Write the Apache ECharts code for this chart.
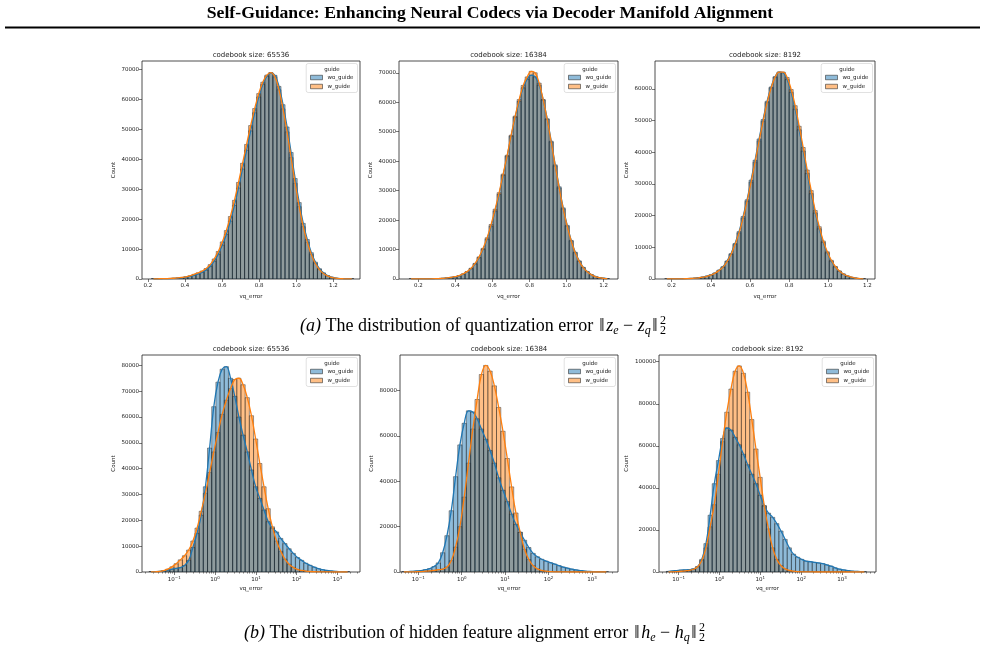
<!DOCTYPE html>
<html>
<head>
<meta charset="utf-8">
<script src="https://cdn.jsdelivr.net/npm/echarts@6.0.0/dist/echarts.min.js"></script>
<style>
  html, body { margin: 0; padding: 0; background: #fff; }
  #main { width: 985px; height: 658px; }
</style>
</head>
<body>
<div id="main"></div>
<script>
var pageTitle = "Self-Guidance: Enhancing Neural Codecs via Decoder Manifold Alignment";
var panelTitles = ["codebook size: 65536", "codebook size: 16384", "codebook size: 8192",
                   "codebook size: 65536", "codebook size: 16384", "codebook size: 8192"];
var hueNames = ["wo_guide", "w_guide"];
var linTicks = [0.2, 0.4, 0.6, 0.8, 1.0, 1.2];
var logTicks = [-1, 0, 1, 2, 3];
var countTicks1 = [0, 10000, 20000, 30000, 40000, 50000, 60000, 70000];
var countTicks3 = [0, 10000, 20000, 30000, 40000, 50000, 60000];
var countTicks4 = [0, 10000, 20000, 30000, 40000, 50000, 60000, 70000, 80000];
var countTicks5 = [0, 20000, 40000, 60000, 80000];
var countTicks6 = [0, 20000, 40000, 60000, 80000, 100000];

// (a) quantization error, bins on vq_error
var p1Bins = [0.22, 0.0218];
var p1Wo = [50, 60, 80, 110, 150, 210, 300, 430, 620, 900, 1250, 1700, 2200, 3000, 4200, 5950, 8300, 11350, 14900, 19400,
  24600, 30450, 36800, 43050, 49550, 55600, 60900, 65050, 67750, 68950, 68100, 64400, 58300, 50850, 42300, 33600, 25550, 18600, 13200, 8800,
  5650, 3450, 2060, 1150, 620, 300, 150, 80, 40, 20];
var p1W = [60, 70, 95, 130, 180, 250, 360, 520, 740, 1080, 1550, 2050, 2650, 3500, 4800, 6700, 9200, 12400, 16200, 20900,
  26300, 32300, 38700, 45000, 51300, 57000, 62000, 65800, 68200, 69000, 67600, 63300, 56900, 49200, 40600, 32000, 24200, 17500, 12300, 8200,
  5200, 3150, 1850, 1020, 540, 260, 130, 70, 35, 15];
var p2Bins = [0.15, 0.0216];
var p2Wo = [20, 25, 30, 40, 45, 60, 100, 150, 230, 350, 520, 760, 1100, 1650, 2400, 3500, 5130, 7230, 10070, 13530,
  17950, 23100, 28760, 35200, 41700, 48500, 54950, 60350, 64900, 67800, 69200, 68630, 65800, 60800, 54400, 46800, 38750, 31300, 24150, 18200,
  13100, 9100, 6150, 3960, 2530, 1520, 870, 480, 250, 120];
var p2W = [20, 25, 30, 40, 50, 65, 105, 160, 240, 360, 540, 790, 1150, 1720, 2500, 3650, 5300, 7500, 10400, 14000,
  18500, 23700, 29300, 35600, 42000, 48800, 55300, 60900, 65700, 68600, 70500, 70000, 66500, 60900, 54200, 46500, 38400, 30900, 23800, 17900,
  12900, 8900, 6000, 3850, 2450, 1470, 840, 460, 240, 110];
var p3Bins = [0.165, 0.0205];
var p3Wo = [20, 25, 35, 50, 70, 110, 170, 260, 400, 600, 900, 1300, 1900, 2800, 3870, 5700, 8000, 11200, 14950, 19700,
  25000, 31200, 37500, 44200, 50300, 56100, 60600, 63850, 65300, 65100, 62950, 58900, 53650, 47100, 40400, 33350, 26950, 20850, 15860, 11540,
  8270, 5650, 3820, 2460, 1560, 940, 550, 300, 150, 70];
var p3W = [20, 25, 35, 50, 70, 105, 160, 250, 380, 570, 860, 1250, 1820, 2700, 3750, 5500, 7750, 10900, 14550, 19200,
  24500, 30600, 36900, 43600, 49800, 55700, 60300, 63700, 65300, 65300, 63600, 59800, 54700, 48200, 41500, 34400, 27900, 21600, 16500, 12000,
  8600, 5900, 3950, 2550, 1600, 960, 560, 300, 150, 70];

// (b) hidden feature alignment error, bins on log10(vq_error)
var p4Bins = [-1.62, 0.1025];
var p4Wo = [50, 100, 200, 400, 700, 1100, 1400, 1700, 2500, 4500, 9500, 15000, 22000, 33000, 48000, 64000, 73500, 78500, 79500, 75000,
  68000, 60000, 53000, 46500, 39500, 33000, 28500, 24000, 19500, 17000, 15500, 13000, 11000, 9000, 7200, 5600, 4500, 3400, 2600, 1900,
  1300, 900, 600, 400, 250, 150, 80, 40];
var p4W = [30, 80, 200, 500, 1100, 2000, 3200, 4700, 6300, 8500, 12000, 17000, 23500, 30500, 38500, 46500, 54000, 61000, 66500, 71000,
  74500, 75000, 72500, 67500, 60500, 51500, 42000, 33000, 24500, 17500, 12000, 8000, 5000, 3000, 1800, 1000, 600, 350, 200, 100,
  60, 40, 20, 10, 5, 0, 0, 0];
var p5Bins = [-1.38, 0.0992];
var p5Wo = [100, 200, 300, 450, 650, 1000, 1500, 2400, 4000, 8500, 16000, 27000, 42000, 56000, 65500, 71000, 70500, 67500, 63000, 58500,
  53500, 48000, 41500, 36000, 31000, 25500, 21000, 17500, 14000, 10800, 8200, 6700, 5600, 4800, 4100, 3500, 2800, 2200, 1700, 1250,
  900, 650, 400, 250, 150, 80, 40, 20];
var p5W = [10, 30, 60, 120, 200, 350, 500, 700, 1000, 1300, 2200, 5000, 11000, 20000, 33000, 48000, 63000, 76000, 87000, 91000,
  88500, 82000, 72500, 62000, 50000, 37500, 26000, 17500, 10000, 5500, 2800, 1400, 700, 350, 180, 90, 50, 25, 12, 6,
  3, 0, 0, 0, 0, 0, 0, 0];
var p6Bins = [-1.3, 0.102];
var p6Wo = [300, 500, 700, 900, 1000, 1100, 1500, 2500, 6000, 13500, 27000, 42000, 53000, 63500, 68500, 67500, 64000, 60500, 56000, 51000,
  46500, 42000, 36500, 31500, 28000, 26000, 23000, 19500, 15500, 11500, 8500, 7000, 6000, 5200, 4900, 4600, 4300, 4000, 3400, 2800,
  2000, 1400, 1000, 700, 450, 300, 180, 80];
var p6W = [50, 100, 200, 350, 550, 800, 1300, 2500, 5500, 11500, 21500, 32000, 46500, 62000, 76000, 87000, 95500, 98000, 94500, 85500,
  72500, 58500, 45000, 31500, 20500, 11500, 6000, 3000, 1500, 750, 380, 190, 90, 45, 20, 10, 5, 0,
  0, 0, 0, 0, 0, 0, 0, 0, 0, 0];

var panels = [
  { bins: p1Bins, wo: p1Wo, w: p1W, log: false, xMin: 0.169, xMax: 1.343, yMax: 72900, yTicks: countTicks1 },
  { bins: p2Bins, wo: p2Wo, w: p2W, log: false, xMin: 0.096, xMax: 1.277, yMax: 74000, yTicks: countTicks1 },
  { bins: p3Bins, wo: p3Wo, w: p3W, log: false, xMin: 0.115, xMax: 1.239, yMax: 68800, yTicks: countTicks3 },
  { bins: p4Bins, wo: p4Wo, w: p4W, log: true, xMin: -1.79, xMax: 3.55, yMax: 84000, yTicks: countTicks4 },
  { bins: p5Bins, wo: p5Wo, w: p5W, log: true, xMin: -1.42, xMax: 3.6, yMax: 95600, yTicks: countTicks5 },
  { bins: p6Bins, wo: p6Wo, w: p6W, log: true, xMin: -1.48, xMax: 3.83, yMax: 103200, yTicks: countTicks6 }
];

var boxes = [
  { l: 142, t: 61, r: 360, b: 279 },
  { l: 399, t: 61, r: 618, b: 279 },
  { l: 655, t: 61, r: 875, b: 279 },
  { l: 142, t: 355, r: 360, b: 572 },
  { l: 400, t: 355, r: 618, b: 572 },
  { l: 659, t: 355, r: 876, b: 572 }
];

var FONT = "DejaVu Sans";
var SERIF = "Liberation Serif";
var blueFill = "rgba(31,119,180,0.5)";
var orangeFill = "rgba(255,127,14,0.5)";
var blueLine = "#1f77b4";
var orangeLine = "#ff7f0e";

function minorLog(lo, hi) {
  var out = [];
  for (var n = -3; n <= 4; n++) {
    for (var k = 2; k <= 9; k++) {
      var v = n + Math.log10(k);
      if (v > lo && v < hi) out.push(v);
    }
  }
  return out;
}

function histSeries(name, counts, bins, fill, z) {
  return {
    type: "custom",
    name: name,
    z: z,
    clip: true,
    silent: true,
    data: counts.map(function (c, i) {
      return [bins[0] + i * bins[1], bins[0] + (i + 1) * bins[1], c];
    }),
    encode: { x: [0, 1], y: 2 },
    renderItem: function (params, api) {
      var a = api.coord([api.value(0), 0]);
      var b = api.coord([api.value(1), api.value(2)]);
      return {
        type: "rect",
        shape: { x: a[0], y: b[1], width: b[0] - a[0], height: a[1] - b[1] },
        style: { fill: fill, stroke: "rgba(30,30,30,0.8)", lineWidth: 0.55 }
      };
    }
  };
}

function kdeSeries(name, counts, bins, color) {
  return {
    type: "line",
    name: name,
    z: 6,
    silent: true,
    smooth: 0.4,
    showSymbol: false,
    clip: true,
    lineStyle: { color: color, width: 1.3 },
    data: counts.map(function (c, i) {
      return [bins[0] + (i + 0.5) * bins[1], c];
    })
  };
}

var grids = [], xAxes = [], yAxes = [], series = [], legends = [], graphics = [];

panels.forEach(function (p, k) {
  var bx = boxes[k];
  grids.push({
    left: bx.l, top: bx.t, width: bx.r - bx.l, height: bx.b - bx.t,
    show: true, borderColor: "#222", borderWidth: 0.8, backgroundColor: "#fff"
  });
  var labelRich = {
    b: { fontSize: 5.5, fontFamily: FONT, color: "#222", lineHeight: 9 },
    s: { fontSize: 4, fontFamily: FONT, color: "#222", lineHeight: 5, verticalAlign: "top" }
  };
  var mainX = xAxes.length;
  xAxes.push({
    type: "value", gridIndex: k, min: p.xMin, max: p.xMax, position: "bottom",
    axisLine: { show: false, onZero: false },
    splitLine: { show: false },
    axisTick: { show: true, customValues: p.log ? logTicks : linTicks, length: 3, lineStyle: { color: "#222", width: 0.6 } },
    axisLabel: {
      show: true, customValues: p.log ? logTicks : linTicks, margin: 3.5,
      fontSize: 5.5, fontFamily: FONT, color: "#222",
      formatter: p.log ? function (v) {
        return "{b|10}{s|" + (v < 0 ? "\u2212" + (-v) : v) + "}";
      } : function (v) { return v.toFixed(1); },
      rich: p.log ? labelRich : undefined
    },
    name: "vq_error", nameLocation: "middle", nameGap: p.log ? 14 : 14.5,
    nameTextStyle: { fontSize: 5.5, fontFamily: FONT, color: "#222" }
  });
  if (p.log) {
    xAxes.push({
      type: "value", gridIndex: k, min: p.xMin, max: p.xMax, position: "bottom", offset: 0,
      axisLine: { show: false, onZero: false }, splitLine: { show: false },
      axisLabel: { show: false },
      axisTick: { show: true, customValues: minorLog(p.xMin, p.xMax), length: 1.6, lineStyle: { color: "#222", width: 0.5 } }
    });
  }
  yAxes.push({
    type: "value", gridIndex: k, min: 0, max: p.yMax, position: "left",
    axisLine: { show: false, onZero: false }, splitLine: { show: false },
    axisTick: { show: true, customValues: p.yTicks, length: 3, lineStyle: { color: "#222", width: 0.6 } },
    axisLabel: {
      show: true, customValues: p.yTicks, margin: 3, fontSize: 5.5, fontFamily: FONT, color: "#222",
      formatter: function (v) { return String(v); }
    },
    name: "Count", nameLocation: "middle", nameGap: k === 5 ? 29 : 25,
    nameTextStyle: { fontSize: 5.5, fontFamily: FONT, color: "#222" }
  });

  var woS = histSeries(hueNames[0], p.wo, p.bins, blueFill, 3);
  var wS = histSeries(hueNames[1], p.w, p.bins, orangeFill, 2);
  var woL = kdeSeries(hueNames[0], p.wo, p.bins, blueLine);
  var wL = kdeSeries(hueNames[1], p.w, p.bins, orangeLine);
  [wS, woS, woL, wL].forEach(function (s) {
    s.xAxisIndex = mainX;
    s.yAxisIndex = k;
    series.push(s);
  });

  legends.push({
    orient: "vertical",
    right: 985 - (bx.r - 2.5),
    top: bx.t + 2.5,
    selectedMode: false,
    itemWidth: 12, itemHeight: 4.5, itemGap: 3,
    padding: [11, 4, 3, 4],
    backgroundColor: "rgba(255,255,255,0.8)",
    borderColor: "#cccccc", borderWidth: 0.6, borderRadius: 2,
    textStyle: { fontSize: 5.5, fontFamily: FONT, color: "#222" },
    data: [
      { name: hueNames[0], icon: "rect", itemStyle: { color: blueFill, borderColor: "#333", borderWidth: 0.6 } },
      { name: hueNames[1], icon: "rect", itemStyle: { color: orangeFill, borderColor: "#333", borderWidth: 0.6 } }
    ]
  });
  graphics.push({
    type: "text", x: bx.r - 2.5 - 25.5, y: bx.t + 8.5, z: 100,
    style: { text: "guide", fill: "#222", font: "5.5px " + FONT, align: "center", verticalAlign: "middle",
             textAlign: "center", textVerticalAlign: "middle" }
  });
  graphics.push({
    type: "text", x: (bx.l + bx.r) / 2, y: bx.t - 6, z: 100,
    style: { text: panelTitles[k], fill: "#222", font: "7px " + FONT, align: "center", verticalAlign: "middle",
             textAlign: "center", textVerticalAlign: "middle" }
  });
});

// page title, rule and captions
graphics.push({
  type: "text", x: 490, y: 13,
  style: { text: pageTitle, fill: "#000", font: "bold 17.7px " + SERIF, align: "center", verticalAlign: "middle",
           textAlign: "center", textVerticalAlign: "middle" }
});
graphics.push({
  type: "line", shape: { x1: 5, y1: 27.5, x2: 980, y2: 27.5 },
  style: { stroke: "#000", lineWidth: 2 }
});

var capRich = {
  i: { fontFamily: SERIF, fontStyle: "italic", fontSize: 18, lineHeight: 22, fill: "#000" },
  n: { fontFamily: SERIF, fontSize: 18, lineHeight: 22, fill: "#000" },
  d: { fontFamily: SERIF, fontSize: 19, lineHeight: 22, fill: "#000", padding: [0, 1.5, 0, 1.5] },
  m: { fontFamily: SERIF, fontStyle: "italic", fontSize: 18, lineHeight: 22, fill: "#000" },
  s: { fontFamily: SERIF, fontStyle: "italic", fontSize: 12, lineHeight: 13, verticalAlign: "bottom", fill: "#000" }
};
function caption(text, xRight, y) {
  graphics.push({
    type: "text", x: xRight, y: y,
    style: { text: text, rich: capRich, align: "right", verticalAlign: "middle",
             textAlign: "right", textVerticalAlign: "middle", font: "18px " + SERIF, fill: "#000" }
  });
  graphics.push({
    type: "text", x: xRight + 1, y: y - 5.5,
    style: { text: "2", font: "12px " + SERIF, fill: "#000", align: "left", verticalAlign: "middle",
             textAlign: "left", textVerticalAlign: "middle" }
  });
  graphics.push({
    type: "text", x: xRight + 1, y: y + 5,
    style: { text: "2", font: "12px " + SERIF, fill: "#000", align: "left", verticalAlign: "middle",
             textAlign: "left", textVerticalAlign: "middle" }
  });
}
caption("{i|(a)}{n| The distribution of quantization error }{d|\u2016}{m|z}{s|e}{n| \u2212 }{m|z}{s|q}{d|\u2016}", 659, 326);
caption("{i|(b)}{n| The distribution of hidden feature alignment error }{d|\u2016}{m|h}{s|e}{n| \u2212 }{m|h}{s|q}{d|\u2016}", 698, 633);

var chart = echarts.init(document.getElementById("main"), null, { renderer: "canvas" });
chart.setOption({
  animation: false,
  backgroundColor: "#fff",
  grid: grids,
  xAxis: xAxes,
  yAxis: yAxes,
  legend: legends,
  series: series,
  graphic: graphics
});
</script>
</body>
</html>
